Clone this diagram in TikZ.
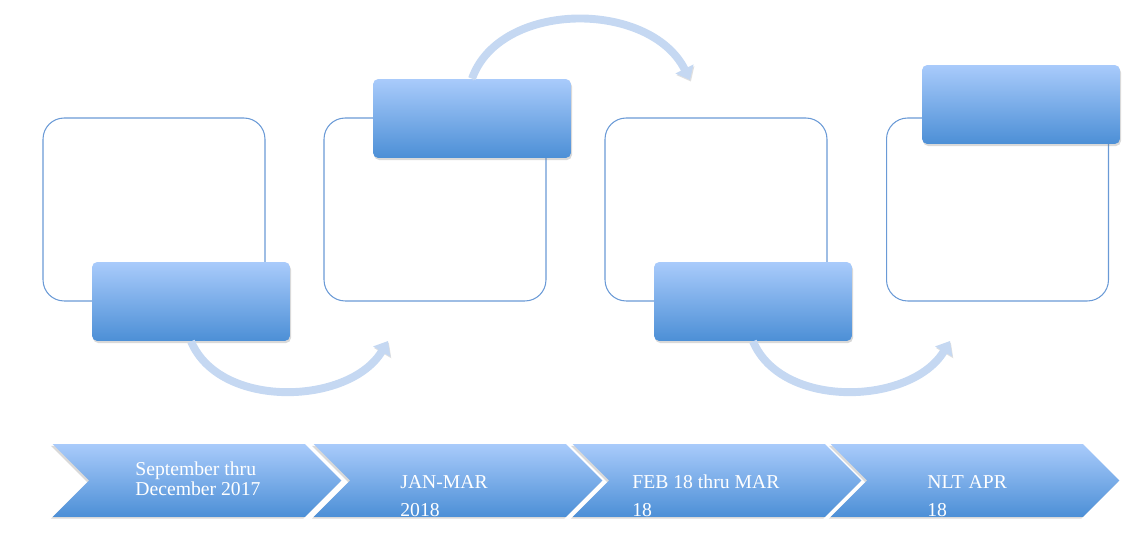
\documentclass[tikz,border=0pt]{standalone}
\usepackage{fontspec}
\setmainfont{Liberation Serif}
\usetikzlibrary{shapes.symbols,shadows,arrows.meta}
\definecolor{gradtop}{HTML}{A9CBFB}
\definecolor{gradbot}{HTML}{4C8FD6}
\definecolor{frameblue}{HTML}{6A9AD6}
\definecolor{arcblue}{HTML}{C5D8F2}

\begin{document}
\begin{tikzpicture}[x=0.02cm,y=-0.02cm,
  frame/.style={draw=frameblue,line width=0.6pt,rounded corners=12pt,minimum width=4.44cm,minimum height=3.66cm,inner sep=0pt},
  tag/.style={top color=gradtop,bottom color=gradbot,rounded corners=3pt,minimum width=3.96cm,minimum height=1.58cm,inner sep=0pt,
    drop shadow={opacity=0.3,shadow xshift=0.6pt,shadow yshift=-1.2pt}},
  chev/.style={signal,signal from=west,signal to=east,top color=gradtop,bottom color=gradbot,minimum width=5.78cm,minimum height=1.46cm,inner sep=0pt,
    drop shadow={opacity=0.3,shadow xshift=-1pt,shadow yshift=-1pt}},
  datetxt/.style={text=white,align=left,anchor=west,inner sep=0pt,font=\fontsize{11.2}{10}\selectfont},
  datetxt wide/.style={datetxt,font=\fontsize{11.2}{16}\selectfont},
  arcarrow/.style={draw=arcblue,line width=4.5pt,-{Triangle[length=7pt,width=11pt]},
    preaction={draw=black!12,transform canvas={shift={(0.5pt,-0.9pt)}}}}]
  \useasboundingbox (0,0) rectangle (1147,550);

  % outline boxes
  \node[frame] (f1) at (154,209.5) {};
  \node[frame] (f2) at (435,209.5) {};
  \node[frame] (f3) at (716,209.5) {};
  \node[frame] (f4) at (997.5,209.5) {};

  % filled tags
  \node[tag] (t1) at (191,301.5) {};
  \node[tag] (t2) at (472,118.5) {};
  \node[tag] (t3) at (753,301.5) {};
  \node[tag] (t4) at (1021,104.5) {};

  % curved arrows
  \coordinate (e1) at (388,341);
  \coordinate (e2) at (690,80);
  \coordinate (e3) at (950,341);
  \draw[arcarrow] (t1.south) .. controls (220,410) and (350,405) .. (e1);
  \draw[arcarrow] (t2.north) .. controls (500,0) and (650,0) .. (e2);
  \draw[arcarrow] (t3.south) .. controls (782,410) and (912,405) .. (e3);

  % timeline
  \node[chev] (c1) at (197,480.5) {};
  \node[chev] (c2) at (458,480.5) {};
  \node[chev] (c3) at (717,480.5) {};
  \node[chev] (c4) at (975,480.5) {};
  \node[datetxt] (d1) at (135,479) {September thru\\December 2017};
  \node[datetxt wide] (d2) at (400,496) {JAN-MAR\\2018};
  \node[datetxt wide] (d3) at (632,496) {FEB 18 thru MAR\\18};
  \node[datetxt wide] (d4) at (927,496) {NLT APR\\18};
\end{tikzpicture}
\end{document}
